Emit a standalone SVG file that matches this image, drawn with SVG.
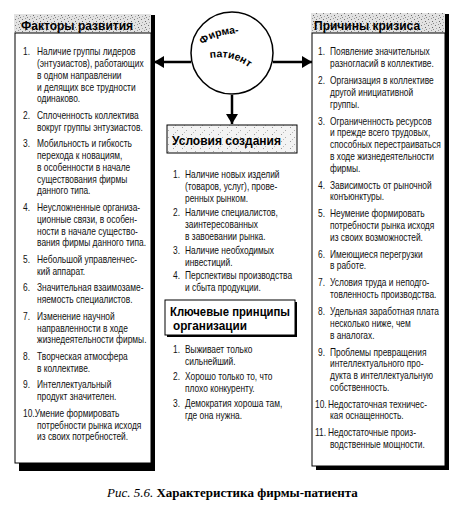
<svg xmlns="http://www.w3.org/2000/svg" width="464" height="513" viewBox="0 0 464 513">
<defs>
<style>
.it{font-family:"Liberation Sans",Arial,sans-serif;font-size:10px;fill:#111}
.hd{font-family:"Liberation Sans",Arial,sans-serif;font-size:12px;font-weight:bold;fill:#000}
.hk{font-family:"Liberation Sans",Arial,sans-serif;font-size:13px;font-weight:bold;fill:#000}
.ct{font-family:"Liberation Sans",Arial,sans-serif;font-size:10.5px;font-weight:bold;fill:#000}
.cap{font-family:"Liberation Serif","Times New Roman",serif;font-size:13px;fill:#000}
.arr{stroke:#000;stroke-width:2.5;fill:none}
</style>
<pattern id="speck" width="7" height="6" patternUnits="userSpaceOnUse">
<rect width="7" height="6" fill="#e2e2e2"/>
<rect x="1" y="1" width="1" height="1" fill="#777"/>
<rect x="4" y="0" width="1" height="1" fill="#999"/>
<rect x="5" y="3" width="1" height="1" fill="#666"/>
<rect x="2" y="4" width="1" height="1" fill="#aaa"/>
<rect x="6" y="5" width="1" height="1" fill="#888"/>
</pattern>
<pattern id="speck2" width="9" height="7" patternUnits="userSpaceOnUse">
<rect width="9" height="7" fill="#f3f3f3"/>
<rect x="2" y="1" width="1" height="1" fill="#999"/>
<rect x="6" y="4" width="1" height="1" fill="#aaa"/>
<rect x="4" y="6" width="1" height="1" fill="#bbb"/>
</pattern>
<marker id="ah" markerUnits="userSpaceOnUse" markerWidth="10" markerHeight="12" refX="10" refY="6" orient="auto">
<path d="M0,0 L10,6 L0,12 z" fill="#000"/>
</marker>
<path id="arcTop" d="M203,45 Q213,34 243,33"/>
<path id="arcBot" d="M210,58 Q236,54 254,72"/>
</defs>

<g id="connectors">
<line class="arr" x1="191" y1="62" x2="154" y2="62" marker-end="url(#ah)"/>
<line class="arr" x1="273" y1="62" x2="312" y2="62" marker-end="url(#ah)"/>
<line class="arr" x1="232" y1="95" x2="232" y2="124" marker-end="url(#ah)"/>
</g>

<g id="firm">
<circle cx="232" cy="53" r="41" fill="#fff" stroke="#000" stroke-width="1.5"/>
<text class="ct"><textPath href="#arcTop">Фирма-</textPath></text>
<text class="ct"><textPath href="#arcBot">патиент</textPath></text>
</g>

<g id="factors">
<rect x="151" y="15" width="4" height="456" fill="#000"/>
<rect x="19" y="463" width="136" height="8" fill="#000"/>
<rect x="14" y="14" width="137" height="19" fill="url(#speck)"/>
<rect x="15" y="33" width="136" height="430" fill="#fff" stroke="#000" stroke-width="1"/>
<text class="hd" x="21" y="30">Факторы развития</text>
<g class="it" transform="translate(23,0) scale(0.84,1)">
<text x="0" y="55.5">1.</text><text x="16.7" y="55.5">Наличие группы лидеров</text>
<text x="16.7" y="67.2">(энтузиастов), работающих</text>
<text x="16.7" y="79">в одном направлении</text>
<text x="16.7" y="90.7">и делящих все трудности</text>
<text x="16.7" y="102.5">одинаково.</text>
<text x="0" y="119.1">2.</text><text x="16.7" y="119.1">Сплоченность коллектива</text>
<text x="16.7" y="130.9">вокруг группы энтузиастов.</text>
<text x="0" y="147.5">3.</text><text x="16.7" y="147.5">Мобильность и гибкость</text>
<text x="16.7" y="159.3">перехода к новациям,</text>
<text x="16.7" y="171">в особенности в начале</text>
<text x="16.7" y="182.8">существования фирмы</text>
<text x="16.7" y="194.5">данного типа.</text>
<text x="0" y="211.2">4.</text><text x="16.7" y="211.2">Неусложненные организа-</text>
<text x="16.7" y="222.9">ционные связи, в особен-</text>
<text x="16.7" y="234.7">ности в начале существо-</text>
<text x="16.7" y="246.4">вания фирмы данного типа.</text>
<text x="0" y="263.1">5.</text><text x="16.7" y="263.1">Небольшой управленчес-</text>
<text x="16.7" y="274.8">кий аппарат.</text>
<text x="0" y="291.5">6.</text><text x="16.7" y="291.5">Значительная взаимозаме-</text>
<text x="16.7" y="303.2">няемость специалистов.</text>
<text x="0" y="319.9">7.</text><text x="16.7" y="319.9">Изменение научной</text>
<text x="16.7" y="331.6">направленности в ходе</text>
<text x="16.7" y="343.4">жизнедеятельности фирмы.</text>
<text x="0" y="360">8.</text><text x="16.7" y="360">Творческая атмосфера</text>
<text x="16.7" y="371.8">в коллективе.</text>
<text x="0" y="388.4">9.</text><text x="16.7" y="388.4">Интеллектуальный</text>
<text x="16.7" y="400.2">продукт значителен.</text>
<text x="0" y="416.8">10.</text><text x="14" y="416.8">Умение формировать</text>
<text x="16.7" y="428.6">потребности рынка исходя</text>
<text x="16.7" y="440.3">из своих потребностей.</text>
</g>
</g>

<g id="crisis">
<rect x="445" y="14" width="4" height="456" fill="#000"/>
<rect x="316" y="466" width="133" height="4" fill="#000"/>
<rect x="311" y="13" width="134" height="20" fill="url(#speck)"/>
<rect x="312" y="33" width="133" height="433" fill="#fff" stroke="#000" stroke-width="1"/>
<text class="hd" x="314" y="30">Причины кризиса</text>
<g class="it" transform="translate(318,0) scale(0.84,1)">
<text x="0" y="55.5">1.</text><text x="14.3" y="55.5">Появление значительных</text>
<text x="14.3" y="67.2">разногласий в коллективе.</text>
<text x="0" y="84.2">2.</text><text x="14.3" y="84.2">Организация в коллективе</text>
<text x="14.3" y="95.9">другой инициативной</text>
<text x="14.3" y="107.7">группы.</text>
<text x="0" y="124.6">3.</text><text x="14.3" y="124.6">Ограниченность ресурсов</text>
<text x="14.3" y="136.4">и прежде всего трудовых,</text>
<text x="14.3" y="148.1">способных перестраиваться</text>
<text x="14.3" y="159.9">в ходе жизнедеятельности</text>
<text x="14.3" y="171.6">фирмы.</text>
<text x="0" y="188.6">4.</text><text x="14.3" y="188.6">Зависимость от рыночной</text>
<text x="14.3" y="200.3">конъюнктуры.</text>
<text x="0" y="217.3">5.</text><text x="14.3" y="217.3">Неумение формировать</text>
<text x="14.3" y="229">потребности рынка исходя</text>
<text x="14.3" y="240.8">из своих возможностей.</text>
<text x="0" y="257.7">6.</text><text x="14.3" y="257.7">Имеющиеся перегрузки</text>
<text x="14.3" y="269.5">в работе.</text>
<text x="0" y="286.4">7.</text><text x="14.3" y="286.4">Условия труда и неподго-</text>
<text x="14.3" y="298.2">товленность производства.</text>
<text x="0" y="315.1">8.</text><text x="14.3" y="315.1">Удельная заработная плата</text>
<text x="14.3" y="326.9">несколько ниже, чем</text>
<text x="14.3" y="338.6">в аналогах.</text>
<text x="0" y="355.6">9.</text><text x="14.3" y="355.6">Проблемы превращения</text>
<text x="14.3" y="367.3">интеллектуального про-</text>
<text x="14.3" y="379.1">дукта в интеллектуальную</text>
<text x="14.3" y="390.8">собственность.</text>
<text x="-3.6" y="407.8">10.</text><text x="11.9" y="407.8">Недостаточная техничес-</text>
<text x="14.3" y="419.5">кая оснащенность.</text>
<text x="-3.6" y="436.5">11.</text><text x="11.9" y="436.5">Недостаточные произ-</text>
<text x="14.3" y="448.2">водственные мощности.</text>
</g>
</g>

<g id="conditions">
<rect x="167" y="125" width="130" height="28" fill="url(#speck2)" stroke="#000" stroke-width="1"/>
<text class="hd" x="172" y="145">Условия создания</text>
<g class="it" transform="translate(173,0) scale(0.84,1)">
<text x="0" y="178.5">1.</text><text x="14.3" y="178.5">Наличие новых изделий</text>
<text x="14.3" y="190.5">(товаров, услуг), прове-</text>
<text x="14.3" y="202.5">ренных рынком.</text>
<text x="0" y="216.5">2.</text><text x="14.3" y="216.5">Наличие специалистов,</text>
<text x="14.3" y="228.5">заинтересованных</text>
<text x="14.3" y="240.5">в завоевании рынка.</text>
<text x="0" y="254">3.</text><text x="14.3" y="254">Наличие необходимых</text>
<text x="14.3" y="266">инвестиций.</text>
<text x="0" y="279">4.</text><text x="14.3" y="279">Перспективы производства</text>
<text x="14.3" y="291">и сбыта продукции.</text>
</g>
</g>

<g id="principles">
<rect x="167" y="302" width="130" height="35" fill="#000"/>
<rect x="165" y="300" width="130" height="35" fill="#fff" stroke="#000" stroke-width="1"/>
<text class="hk" x="170" y="315.5" textLength="120" lengthAdjust="spacingAndGlyphs">Ключевые принципы</text>
<text class="hk" x="173" y="329.5" textLength="74" lengthAdjust="spacingAndGlyphs">организации</text>
<g class="it" transform="translate(173,0) scale(0.84,1)">
<text x="0" y="353.5">1.</text><text x="14.3" y="353.5">Выживает только</text>
<text x="14.3" y="365.5">сильнейший.</text>
<text x="0" y="380.5">2.</text><text x="14.3" y="380.5">Хорошо только то, что</text>
<text x="14.3" y="392.5">плохо конкуренту.</text>
<text x="0" y="407.5">3.</text><text x="14.3" y="407.5">Демократия хороша там,</text>
<text x="14.3" y="419.5">где она нужна.</text>
</g>
</g>

<text class="cap" x="107" y="497"><tspan font-style="italic">Рис. 5.6.</tspan> <tspan font-weight="bold">Характеристика фирмы-патиента</tspan></text>
</svg>
